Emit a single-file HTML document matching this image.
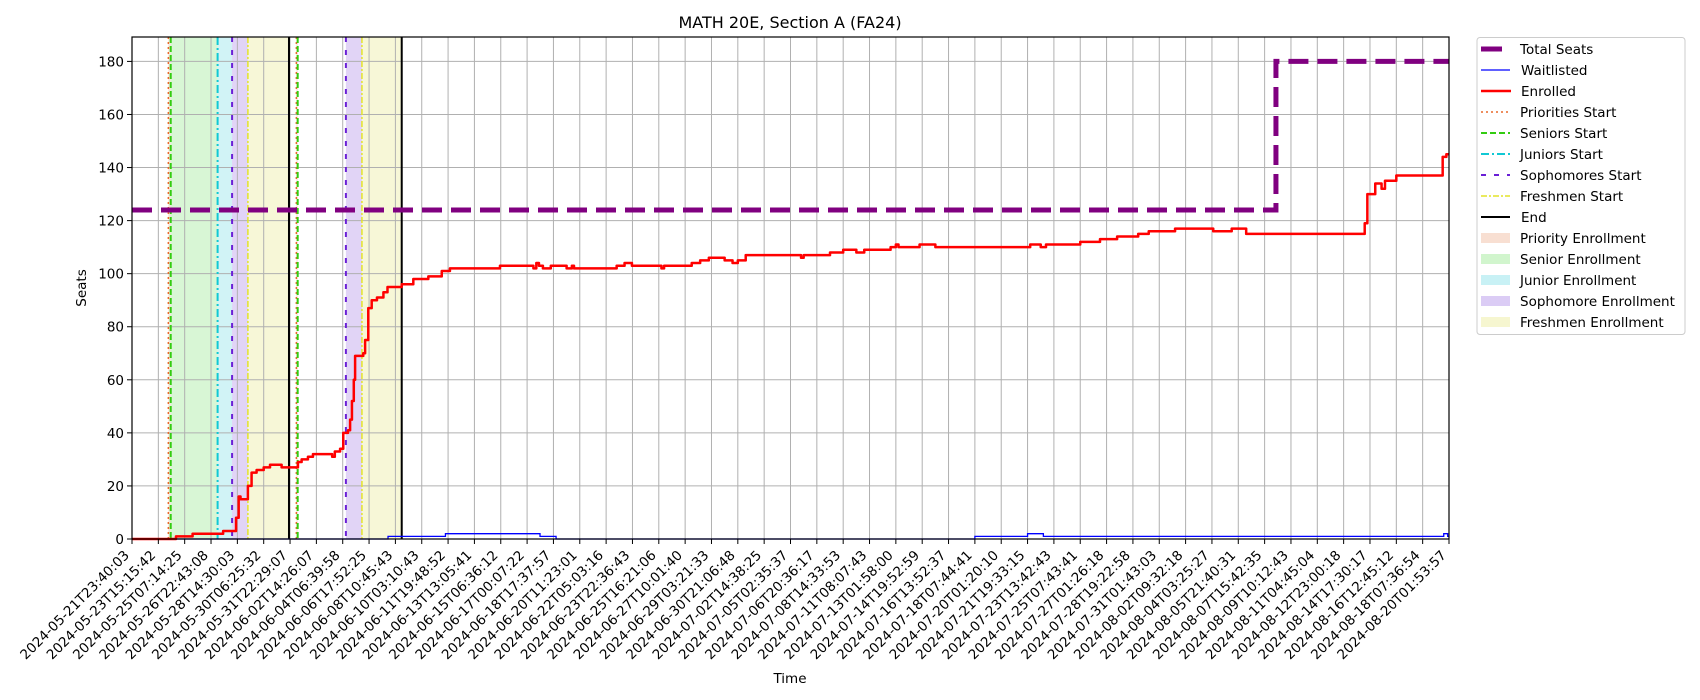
<!DOCTYPE html>
<html><head><meta charset="utf-8"><style>
body{margin:0;background:#fff;}
svg{display:block;font-family:"DejaVu Sans","Liberation Sans",sans-serif;}
</style></head><body>
<svg id="chart" width="1700" height="700"></svg>
<script>
const tickLabels=["2024-05-21T23:40:03","2024-05-23T15:15:42","2024-05-25T07:14:25","2024-05-26T22:43:08","2024-05-28T14:30:03","2024-05-30T06:25:32","2024-05-31T22:29:07","2024-06-02T14:26:07","2024-06-04T06:39:58","2024-06-06T17:52:25","2024-06-08T10:45:43","2024-06-10T03:10:43","2024-06-11T19:48:52","2024-06-13T13:05:41","2024-06-15T06:36:12","2024-06-17T00:07:22","2024-06-18T17:37:57","2024-06-20T11:23:01","2024-06-22T05:03:16","2024-06-23T22:36:43","2024-06-25T16:21:06","2024-06-27T10:01:40","2024-06-29T03:21:33","2024-06-30T21:06:48","2024-07-02T14:38:25","2024-07-05T02:35:37","2024-07-06T20:36:17","2024-07-08T14:33:53","2024-07-11T08:07:43","2024-07-13T01:58:00","2024-07-14T19:52:59","2024-07-16T13:52:37","2024-07-18T07:44:41","2024-07-20T01:20:10","2024-07-21T19:33:15","2024-07-23T13:42:43","2024-07-25T07:43:41","2024-07-27T01:26:18","2024-07-28T19:22:58","2024-07-31T01:43:03","2024-08-02T09:32:18","2024-08-04T03:25:27","2024-08-05T21:40:31","2024-08-07T15:42:35","2024-08-09T10:12:43","2024-08-11T04:45:04","2024-08-12T23:00:18","2024-08-14T17:30:17","2024-08-16T12:45:12","2024-08-18T07:36:54","2024-08-20T01:53:57"];
const yTicks=[0,20,40,60,80,100,120,140,160,180];
const enrolledX=[0,1.67,2.3,3.46,3.95,4.05,4.12,4.4,4.54,4.73,5.0,5.24,5.68,6.3,6.44,6.68,6.87,7.6,7.7,7.9,8.02,8.2,8.28,8.35,8.42,8.47,8.78,8.85,8.97,9.1,9.3,9.545,9.7,10.24,10.68,11.25,11.76,12.07,13.97,15.24,15.35,15.45,15.6,15.9,16.5,16.7,16.78,18.4,18.7,18.98,20.1,20.2,21.25,21.57,21.9,22.5,22.8,23.0,23.3,25.4,25.5,26.5,27.0,27.5,27.8,28.8,29.0,29.1,29.9,30.5,34.1,34.5,34.7,36.0,36.75,37.4,38.2,38.6,39.6,41.05,41.75,42.3,46.8,46.9,47.0,47.2,47.44,47.57,48.0,49.6,49.76,49.9];
const enrolledY=[0,1,2,3,8,16,15,20,25,26,27,28,27,29,30,31,32,31,33,34,40,41,45,52,60,69,70,75,87,90,91,93,95,96,98,99,101,102,103,102,104,103,102,103,102,103,102,103,104,103,102,103,104,105,106,105,104,105,107,106,107,108,109,108,109,110,111,110,111,110,111,110,111,112,113,114,115,116,117,116,117,115,119,130,130,134,132,135,137,137,144,145];
const waitX=[0,9.72,11.9,15.49,16.1,32.0,34.0,34.6,49.8,49.95];
const waitY=[0,1,2,1,0,1,2,1,2,1];
const seatsX=[0,43.43];
const seatsY=[124,180];
const eventNames=["priority","senior","junior","sophomore","freshmen","end"];
const eventX1=[1.38,1.47,3.25,3.8,4.4,5.96];
const eventX2=[6.24,6.29,null,8.12,8.73,10.24];

const L=132,R=1449,T=37,B=539,XMAX=50,YMAX=189.2;
const xs=i=>L+(R-L)*i/XMAX;
const ys=v=>B-(B-T)*v/YMAX;
const NS="http://www.w3.org/2000/svg";
const svg=document.getElementById('chart');
function mk(tag,attrs,parent){const e=document.createElementNS(NS,tag);for(const k in attrs)e.setAttribute(k,attrs[k]);(parent||svg).appendChild(e);return e;}
const shadeCol={priority:"#f4c9b4",senior:"#b2eeab",junior:"#a3e8ee",sophomore:"#c3aaee",freshmen:"#f0f0b0"};
const lineStyle={priority:["#e8692a","2,3",1.5],senior:["#33cc11","6,3",2],junior:["#11c8d4","8,3,2,3",2],sophomore:["#6a1fd6","5,8",2],freshmen:["#e4e42a","6,2,2,2",1.5],end:["#000","",2]};
const gShade=mk('g',{});


function shades(arr){for(let i=0;i<5;i++){const a=arr[i],n=arr[i+1];if(a==null||n==null)continue;const r=mk('rect',{x:xs(a),y:T,width:xs(n)-xs(a),height:B-T,fill:shadeCol[eventNames[i]],opacity:0.5},gShade);
 
 }}
shades(eventX1);shades(eventX2);
const gGrid=mk('g',{stroke:"#b0b0b0","stroke-width":1});


tickLabels.forEach((t,i)=>{mk('line',{x1:xs(i),x2:xs(i),y1:T,y2:B},gGrid);});
yTicks.forEach(v=>{mk('line',{x1:L,x2:R,y1:ys(v),y2:ys(v)},gGrid);});
[eventX1,eventX2].forEach(arr=>arr.forEach((v,i)=>{if(v==null)return;const s=lineStyle[eventNames[i]];const ln=mk('line',{x1:xs(v),x2:xs(v),y1:T,y2:B,stroke:s[0],"stroke-width":s[2],"stroke-dasharray":s[1]});
 
 }));
function stepPath(X,Y){let d="M"+xs(X[0])+","+ys(Y[0]);for(let i=1;i<X.length;i++){d+=" H"+xs(X[i])+" V"+ys(Y[i]);}d+=" H"+xs(XMAX);return d;}
const seats=mk('path',{d:stepPath(seatsX,seatsY),fill:"none",stroke:"#800080","stroke-width":5,"stroke-dasharray":"20,9"});


const wait=mk('path',{d:stepPath(waitX,waitY),fill:"none",stroke:"#0000ff","stroke-width":1.3});


const enr=mk('path',{d:stepPath(enrolledX,enrolledY),fill:"none",stroke:"#ff0000","stroke-width":2.5,"stroke-linejoin":"round"});


const frame=mk('rect',{x:L,y:T,width:R-L,height:B-T,fill:"none",stroke:"#000","stroke-width":1.2});


tickLabels.forEach((t,i)=>{mk('line',{x1:xs(i),x2:xs(i),y1:B,y2:B+5,stroke:"#000"});
 const ax=xs(i)-2,ay=B+17;
 const tx=mk('text',{x:ax,y:ay,"font-size":13.5,"text-anchor":"end",transform:`rotate(-45 ${ax} ${ay})`,fill:"#000"});tx.textContent=t;
 
 });
yTicks.forEach(v=>{mk('line',{x1:L-5,x2:L,y1:ys(v),y2:ys(v),stroke:"#000"});
 const tx=mk('text',{x:L-8,y:ys(v)+5,"font-size":13.5,"text-anchor":"end",fill:"#000"});tx.textContent=v;
 
 });
</script>
<svg width="1700" height="700" style="position:absolute;left:0;top:0;font-family:'DejaVu Sans','Liberation Sans',sans-serif">
<text x="790" y="28" font-size="16" text-anchor="middle">MATH 20E, Section A (FA24)</text>
<text x="790" y="683" font-size="13.5" text-anchor="middle">Time</text>
<text x="86" y="288" font-size="13.5" text-anchor="middle" transform="rotate(-90 86 288)">Seats</text>
<g font-size="13.5">
<rect x="1477" y="37.5" width="208" height="297" rx="3" fill="#fff" stroke="#ccc"/>
<g><line x1="1481" x2="1502" y1="49" y2="49" stroke="#800080" stroke-width="5"/><text x="1520" y="54">Total Seats</text></g>
<g><line x1="1481" x2="1510" y1="70" y2="70" stroke="#0000ff" stroke-width="1.3"/><text x="1521" y="75">Waitlisted</text></g>
<g><line x1="1481" x2="1511" y1="91" y2="91" stroke="#ff0000" stroke-width="2.5"/><text x="1521" y="96">Enrolled</text></g>
<g><line x1="1481" x2="1510" y1="112" y2="112" stroke="#e8692a" stroke-width="1.5" stroke-dasharray="2,3"/><text x="1520" y="117">Priorities Start</text></g>
<g><line x1="1481" x2="1510" y1="133" y2="133" stroke="#33cc11" stroke-width="2" stroke-dasharray="6,3"/><text x="1520" y="138">Seniors Start</text></g>
<g><line x1="1481" x2="1510" y1="154" y2="154" stroke="#11c8d4" stroke-width="2" stroke-dasharray="8,3,2,3"/><text x="1520" y="159">Juniors Start</text></g>
<g><line x1="1481" x2="1510" y1="175" y2="175" stroke="#6a1fd6" stroke-width="2" stroke-dasharray="5,8"/><text x="1520" y="180">Sophomores Start</text></g>
<g><line x1="1481" x2="1510" y1="196" y2="196" stroke="#e4e42a" stroke-width="1.5" stroke-dasharray="6,2,2,2"/><text x="1520" y="201">Freshmen Start</text></g>
<g><line x1="1481" x2="1510" y1="217" y2="217" stroke="#000" stroke-width="2"/><text x="1521" y="222">End</text></g>
<g><rect x="1481" y="233" width="29" height="10" fill="#f4c9b4" opacity="0.6"/><text x="1520" y="243">Priority Enrollment</text></g>
<g><rect x="1481" y="254" width="29" height="10" fill="#b2eeab" opacity="0.6"/><text x="1520" y="264">Senior Enrollment</text></g>
<g><rect x="1481" y="275" width="29" height="10" fill="#a3e8ee" opacity="0.6"/><text x="1520" y="285">Junior Enrollment</text></g>
<g><rect x="1481" y="296" width="29" height="10" fill="#c3aaee" opacity="0.6"/><text x="1520" y="306">Sophomore Enrollment</text></g>
<g><rect x="1481" y="317" width="29" height="10" fill="#f0f0b0" opacity="0.6"/><text x="1520" y="327">Freshmen Enrollment</text></g>
</g>
</svg>
</body></html>
